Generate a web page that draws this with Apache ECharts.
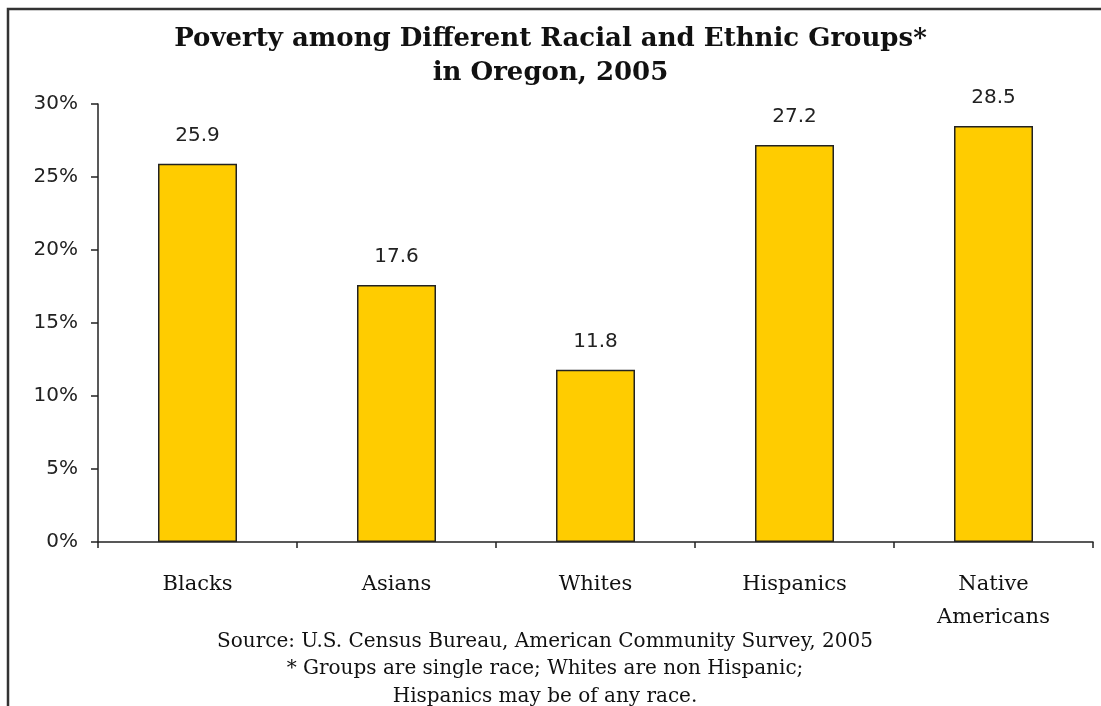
<!DOCTYPE html>
<html><head><meta charset="utf-8">
<script src="https://cdn.jsdelivr.net/npm/echarts@6/dist/echarts.min.js"></script>
<style>html,body{margin:0;padding:0;background:#fff}#c{width:1101px;height:706px}</style>
</head><body><div id="c"></div>
<script>
const categories = ['Blacks', 'Asians', 'Whites', 'Hispanics', 'Native\nAmericans'];
const povertyRates = [25.9, 17.6, 11.8, 27.2, 28.5];
const titleLines = ['Poverty among Different Racial and Ethnic Groups*', 'in Oregon, 2005'];
const footerLines = ['Source: U.S. Census Bureau, American Community Survey, 2005', '* Groups are single race; Whites are non Hispanic;', 'Hispanics may be of any race.'];

const chart = echarts.init(document.getElementById('c'));
chart.setOption({
  animation: false,
  backgroundColor: '#fff',
  title: [{
    text: titleLines.join('\n'),
    left: 'center', top: 17,
    textStyle: { fontFamily: 'DejaVu Serif', fontWeight: 'bold', fontSize: 26, lineHeight: 34, color: '#111' }
  }],
  graphic: [{
    type: 'rect', shape: { x: 8, y: 9, width: 1300, height: 900 },
    style: { fill: 'none', stroke: '#333', lineWidth: 2.5 }, silent: true
  }, {
    type: 'text', x: 545, y: 628,
    style: { text: footerLines.join('\n'), align: 'center', verticalAlign: 'top', fontFamily: 'DejaVu Serif', fontSize: 20, lineHeight: 27.5, fill: '#111' },
    silent: true
  }],
  grid: { left: 98, right: 8, top: 104, bottom: 164 },
  xAxis: {
    type: 'category', data: categories,
    axisLine: { lineStyle: { color: '#222', width: 1.5 } },
    axisTick: { show: true, length: 6, lineStyle: { color: '#222', width: 1.5 } },
    axisLabel: { fontFamily: 'DejaVu Serif', fontSize: 21, color: '#111', margin: 26, lineHeight: 33 }
  },
  yAxis: {
    type: 'value', min: 0, max: 30, interval: 5,
    axisLine: { show: true, lineStyle: { color: '#222', width: 1.5 } },
    axisTick: { show: true, length: 7, lineStyle: { color: '#222', width: 1.5 } },
    splitLine: { show: false },
    axisLabel: { formatter: '{value}%', fontFamily: 'DejaVu Sans', fontSize: 20, color: '#222', margin: 20 }
  },
  series: [{
    type: 'bar', data: povertyRates, barWidth: 79,
    itemStyle: { color: '#FFCC00', borderColor: '#222', borderWidth: 1.5 },
    label: { show: true, position: 'top', distance: 18, fontFamily: 'DejaVu Sans', fontSize: 20, color: '#222',
      formatter: p => p.value.toFixed(1) }
  }]
});
</script></body></html>
